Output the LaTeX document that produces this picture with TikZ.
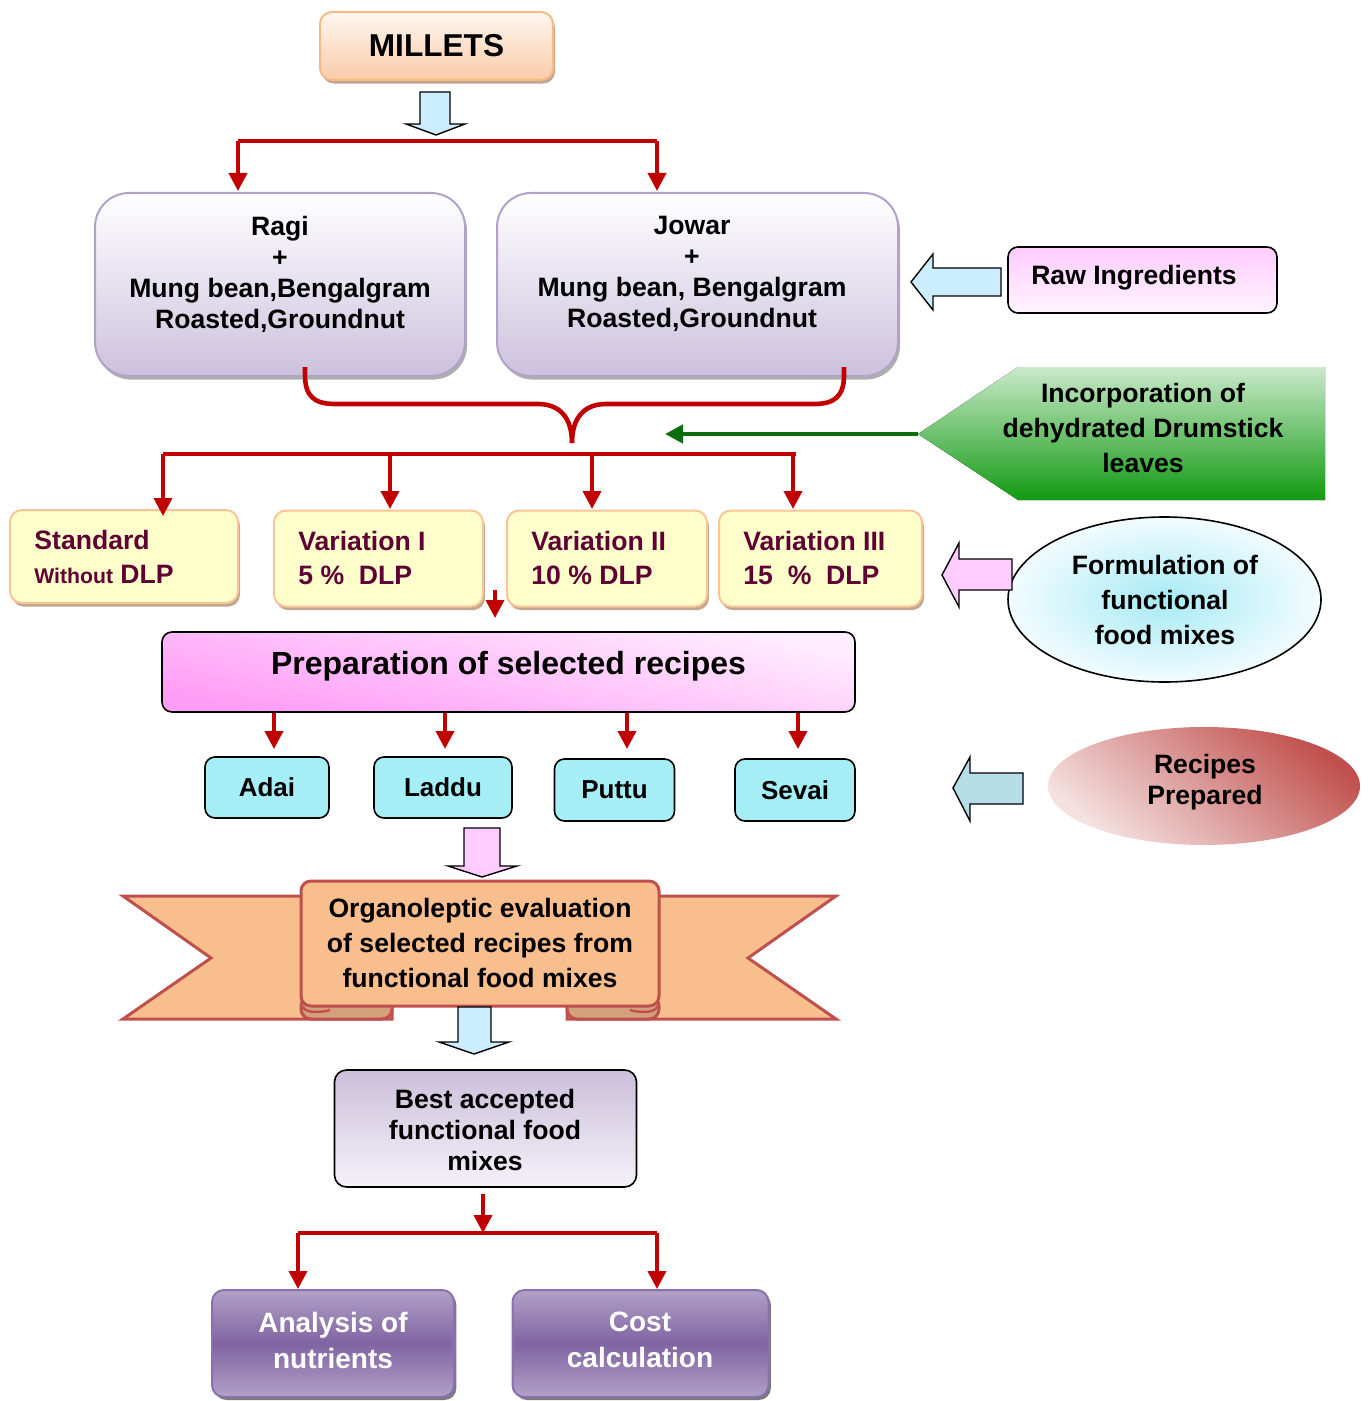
\documentclass[tikz,border=0pt]{standalone}
\usepackage{fontspec}
\setmainfont{Liberation Sans}
\usetikzlibrary{shapes.geometric,shadows,arrows.meta,calc}
\definecolor{redline}{HTML}{C00000}
\definecolor{greenln}{HTML}{0B6E0B}
\definecolor{millettop}{HTML}{FFF6F0}
\definecolor{milletbot}{HTML}{F9CBA8}
\definecolor{milletbd}{HTML}{F7B985}
\definecolor{ragibot}{HTML}{CCC1DD}
\definecolor{ragibd}{HTML}{B3A2C7}
\definecolor{rawtop}{HTML}{FFCCFF}
\definecolor{rawbot}{HTML}{FFF4FF}
\definecolor{greentop}{HTML}{CAE9CA}
\definecolor{greenbot}{HTML}{129A12}
\definecolor{yfill}{HTML}{FFFFCC}
\definecolor{ybd}{HTML}{F9C597}
\definecolor{ytext}{HTML}{5E0033}
\definecolor{preptop}{HTML}{FFEEFF}
\definecolor{prepbot}{HTML}{FF9CF6}
\definecolor{cyanbox}{HTML}{A6EEF6}
\definecolor{ribbon}{HTML}{F9BE8E}
\definecolor{ribbonbd}{HTML}{C0504D}
\definecolor{fold}{HTML}{D4A07A}
\definecolor{besttop}{HTML}{CBBFDA}
\definecolor{bestbot}{HTML}{F5F2F9}
\definecolor{purpmid}{HTML}{8064A2}
\definecolor{purpedge}{HTML}{B2A1C7}
\definecolor{purpbd}{HTML}{8A70AC}
\definecolor{arrowblue}{HTML}{CCECFF}
\definecolor{arrowpink}{HTML}{FFCCFF}
\definecolor{arrowgray}{HTML}{B7DDE8}
\definecolor{formin}{HTML}{A6EAF5}
\definecolor{formout}{HTML}{F2FCFE}
\definecolor{recdark}{HTML}{C0504D}
\definecolor{reclight}{HTML}{F4E2E1}
\newcommand\setfs[2]{\fontsize{#1}{#2}\selectfont}
\tikzset{
  redarr/.style={draw=redline, line width=1.9pt, -{Triangle[width=9pt,length=9pt]}},
  redln/.style={draw=redline, line width=1.9pt},
  blockarr/.style={draw=black, line width=0.7pt, line join=miter},
  txt/.style={font=\bfseries\setfs{13.3}{15.5}, align=center, inner sep=0pt},
  mixbox/.style={draw=ragibd, line width=1pt, rounded corners=17pt, top color=white, bottom color=ragibot,
     minimum height=91.5pt, inner sep=0pt,
     drop shadow={shadow xshift=1pt, shadow yshift=-1.8pt, fill=black!45, opacity=0.7}},
  varbox/.style={draw=ybd, line width=1pt, rounded corners=6pt, fill=yfill,
     minimum height=48pt, inner sep=0pt,
     drop shadow={shadow xshift=1pt, shadow yshift=-1.8pt, fill=fold!80!black, opacity=0.7}},
  vtxt/.style={font=\bfseries\setfs{13.3}{17}, text=ytext, align=left, inner sep=0pt, anchor=west},
  recbox/.style={draw=black, line width=0.8pt, rounded corners=5pt, fill=cyanbox,
     minimum height=30.5pt, inner sep=0pt, font=\bfseries\setfs{13}{15}},
  purpbox/.style={draw=purpbd, line width=1pt, rounded corners=6pt, top color=purpedge, bottom color=purpedge,
     middle color=purpmid, minimum height=53.5pt, inner sep=0pt,
     drop shadow={shadow xshift=1.2pt, shadow yshift=-1.5pt, fill=black!65, opacity=0.8}},
  wtxt/.style={font=\bfseries\setfs{14}{18}, text=white, align=center, inner sep=0pt},
}
\begin{document}
\begin{tikzpicture}[x=0.5pt,y=-0.5pt]
\useasboundingbox (0,0) rectangle (1370,1401);

% ---------- MILLETS
\node[draw=milletbd, line width=1pt, rounded corners=6pt, top color=millettop, bottom color=milletbot,
  minimum width=116.5pt, minimum height=34pt, inner sep=0pt,
  drop shadow={shadow xshift=1pt, shadow yshift=-1.8pt, fill=fold!80!black, opacity=0.7},
  font=\bfseries\setfs{15.8}{18}] (millets) at (436.5,46) {MILLETS};
\filldraw[blockarr, fill=arrowblue] (420,92) -- (450,92) -- (450,124) -- (465,124) -- (436,135)
  -- (406,124) -- (420,124) -- cycle;

% ---------- Ragi / Jowar
\node[mixbox, minimum width=185pt] (ragi) at (280,284.5) {};
\node[mixbox, minimum width=200.5pt] (jowar) at (697.5,284.5) {};
\node[txt] (ragit) at (280,274) {Ragi\\+\\Mung bean,Bengalgram\\Roasted,Groundnut};
\node[txt] (jowart) at (692,274) {Jowar\\+\\Mung bean, Bengalgram\\Roasted,Groundnut};

\coordinate (t1) at (238,141);
\coordinate (t2) at (657,141);
\draw[redln] (t1) -- (t2);
\draw[redarr] (t1) -- (238,191);
\draw[redarr] (t2) -- (657,191);

% ---------- Raw ingredients
\node[draw=black, line width=0.8pt, rounded corners=5pt, top color=rawtop, bottom color=rawbot,
  minimum width=134.5pt, minimum height=33pt, inner sep=0pt] (raw) at (1142.5,280) {};
\node[txt] (rawt) at (1134,278) {Raw Ingredients};
\filldraw[blockarr, fill=arrowblue] (1001,268) -- (933,268) -- (933,254) -- (911,282) -- (933,310)
  -- (933,296) -- (1001,296) -- cycle;

% ---------- brace
\coordinate (btip) at (572,443);
\draw[redline, line width=2.3pt] (305,367) -- (305,375) .. controls (305,396) and (314,404) .. (335,404)
  -- (538,404) .. controls (560,404) and (572,418) .. (btip);
\draw[redline, line width=2.3pt] (844,367) -- (844,375) .. controls (844,396) and (835,404) .. (814,404)
  -- (606,404) .. controls (584,404) and (572,418) .. (btip);

% ---------- green incorporation
\coordinate (gtip) at (918,434);
\fill[top color=greentop, bottom color=greenbot] (gtip) -- (1018,367) -- (1325,367) -- (1325,500)
  -- (1018,500) -- cycle;
\node[txt, font=\bfseries\setfs{13.3}{17.7}] (incorp) at (1143,428)
  {Incorporation of\\dehydrated Drumstick\\leaves};
\coordinate (gend) at (665,434);
\draw[greenln, line width=2.2pt, -{Triangle[width=9pt,length=9pt]}] (gtip) -- (gend);

% ---------- variation boxes
\node[varbox, minimum width=114pt, minimum height=46.5pt] (std) at (124,556.5) {};
\node[varbox, minimum width=104.5pt] (v1) at (378.5,558.5) {};
\node[varbox, minimum width=100pt] (v2) at (607,558.5) {};
\node[varbox, minimum width=101.5pt] (v3) at (820.5,558.5) {};
\node[vtxt] (stdt) at (34,557) {Standard\\{\setfs{10.6}{17}Without} DLP};
\node[vtxt] (v1t) at (298,558) {Variation I\\5 \%\ \ DLP};
\node[vtxt] (v2t) at (531,558) {Variation II\\10 \% DLP};
\node[vtxt] (v3t) at (743,558) {Variation III\\15\ \ \%\ \ DLP};

\coordinate (j1) at (163,454);
\coordinate (j4) at (796,454);
\draw[redln] (j1) -- (j4);
\draw[redarr] (j1) -- (163,516);
\draw[redarr] (390,454) -- (390,509);
\draw[redarr] (592,454) -- (592,509);
\draw[redarr] (793,454) -- (793,509);

% ---------- formulation ellipse
\node[ellipse, draw=black, line width=0.8pt, inner color=formin, outer color=formout,
  minimum width=156.5pt, minimum height=82.5pt, inner sep=0pt] (form) at (1164.5,599.5) {};
\node[txt, font=\bfseries\setfs{13.3}{17.5}] (formt) at (1165,600) {Formulation of\\functional\\food mixes};
\filldraw[blockarr, fill=arrowpink] (1012,559) -- (959,559) -- (959,543) -- (942,575) -- (959,607)
  -- (959,590) -- (1012,590) -- cycle;

% ---------- preparation
\coordinate (sa) at (495,590);
\draw[redarr] (sa) -- (495,618);
\node[draw=black, line width=0.8pt, rounded corners=5pt, top color=preptop, bottom color=prepbot,
  shading angle=-12, minimum width=346.5pt, minimum height=40pt, inner sep=0pt] (prep) at (508.5,672) {};
\node[txt, font=\bfseries\setfs{16}{18}] (prept) at (508.5,666) {Preparation of selected recipes};

% ---------- recipes
\node[recbox, minimum width=62pt] (adai) at (267,787.5) {Adai};
\node[recbox, minimum width=69pt] (laddu) at (443,787.5) {Laddu};
\node[recbox, minimum width=60pt, minimum height=31pt] (puttu) at (614.5,790) {Puttu};
\node[recbox, minimum width=60pt, minimum height=31pt] (sevai) at (795,790) {Sevai};
\draw[redarr] (274,0 |- prep.south) -- (274,749);
\draw[redarr] (445,0 |- prep.south) -- (445,749);
\draw[redarr] (627,0 |- prep.south) -- (627,749);
\draw[redarr] (798,0 |- prep.south) -- (798,749);

% ---------- recipes prepared ellipse
\node[ellipse, minimum width=156pt, minimum height=59pt, inner sep=0pt,
  top color=recdark, bottom color=reclight, shading angle=-40] (recp) at (1204,786) {};
\node[txt] (recpt) at (1205,782) {Recipes\\Prepared};
\filldraw[blockarr, fill=arrowgray] (1023,773) -- (970,773) -- (970,757) -- (953,788) -- (970,821)
  -- (970,804) -- (1023,804) -- cycle;

\filldraw[blockarr, fill=arrowpink] (464,828) -- (500,828) -- (500,866) -- (517,866) -- (482,877)
  -- (448,866) -- (464,866) -- cycle;

% ---------- ribbon
\filldraw[fill=ribbon, draw=ribbonbd, line width=1.5pt, line join=miter]
  (123,896) -- (392,896) -- (392,1019) -- (123,1019) -- (211,958) -- cycle;
\filldraw[fill=ribbon, draw=ribbonbd, line width=1.5pt, line join=miter]
  (836,896) -- (567,896) -- (567,1019) -- (836,1019) -- (748,958) -- cycle;
\filldraw[fill=fold, draw=ribbonbd, line width=1.5pt, rounded corners=5pt]
  (392,996) -- (301,996) -- (301,1019) -- (392,1019) [sharp corners] -- cycle;
\filldraw[fill=fold, draw=ribbonbd, line width=1.5pt, rounded corners=5pt]
  (567,996) -- (659,996) -- (659,1019) -- (567,1019) [sharp corners] -- cycle;
\filldraw[fill=ribbon, draw=ribbonbd, line width=1.5pt, rounded corners=5pt]
  (301,881) rectangle (659,1006);
\draw[ribbonbd, line width=1.2pt] (303,1006) .. controls (303,1013) and (320,1013) .. (330,1010);
\draw[ribbonbd, line width=1.2pt] (657,1006) .. controls (657,1013) and (640,1013) .. (630,1010);
\node[txt, font=\bfseries\setfs{13.3}{17.7}] (organo) at (480,943)
  {Organoleptic evaluation\\of selected recipes from\\functional food mixes};

\filldraw[blockarr, fill=arrowblue] (458,1007) -- (491,1007) -- (491,1042) -- (509,1042) -- (474,1054)
  -- (439,1042) -- (458,1042) -- cycle;

% ---------- best accepted
\node[draw=black, line width=0.8pt, rounded corners=6pt, top color=besttop, bottom color=bestbot,
  minimum width=151pt, minimum height=58.5pt, inner sep=0pt] (best) at (485.5,1128.5) {};
\node[txt, font=\bfseries\setfs{13.3}{15.3}] (bestt) at (485,1130)
  {Best accepted\\functional food\\mixes};

\draw[redarr] (483,0 |- best.south) ++(0,6) -- (483,1233);
\coordinate (bl) at (298,1233);
\coordinate (br) at (657,1233);
\draw[redln] (bl) -- (br);

% ---------- analysis / cost
\node[purpbox, minimum width=121pt] (anal) at (333,1343.5) {};
\node[purpbox, minimum width=128pt] (cost) at (640.5,1343.5) {};
\node[wtxt] (analt) at (333,1340) {Analysis of\\nutrients};
\node[wtxt] (costt) at (640,1340) {Cost\\calculation};
\draw[redarr] (bl) -- (298,0 |- anal.north);
\draw[redarr] (br) -- (657,0 |- cost.north);
\end{tikzpicture}
\end{document}
